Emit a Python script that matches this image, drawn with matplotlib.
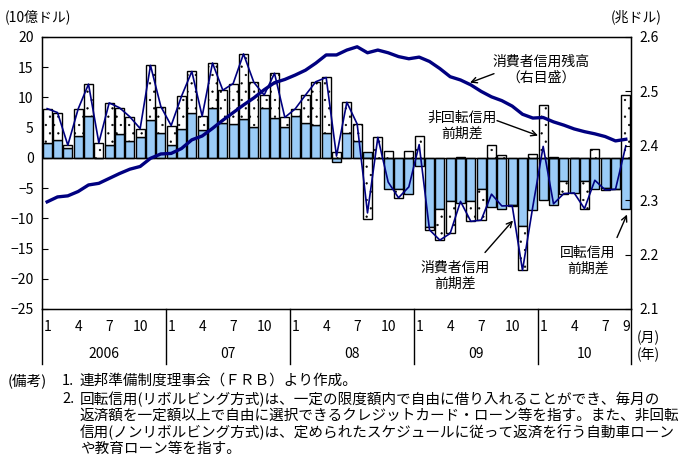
import numpy as np
import matplotlib
matplotlib.use("Agg")
import matplotlib.pyplot as plt
from matplotlib.transforms import blended_transform_factory

plt.rcParams['font.family'] = ['Noto Sans CJK JP', 'DejaVu Sans']
plt.rcParams['hatch.linewidth'] = 0.4
plt.rcParams['hatch.color'] = '#333333'

# ---- data (Jan 2006 - Sep 2010, monthly) ----
years = ['2006', '07', '08', '09', '10']
month_ticks = [['1', '4', '7', '10']] * 4 + [['1', '4', '7', '9']]
month_tick_idx = [[0, 3, 6, 9]] * 4 + [[0, 3, 6, 8]]

revolving = [2.4, 3.0, 1.6, 3.6, 7.0, 0.0, 2.1, 3.9, 2.75, 3.5, 6.2, 4.2,
             2.1, 4.8, 7.4, 4.6, 8.3, 5.8, 5.6, 6.4, 5.1, 8.3, 6.6, 5.1,
             6.9, 5.8, 5.4, 4.2, -0.6, 4.2, 2.75, 1.0, 0.0, -5.1, -5.1, -5.9,
             -1.4, -11.4, -8.5, -7.1, -7.4, -7.1, -5.1, -8.1, -8.5, -7.8, -11.3, -8.7,
             -6.9, -7.8, -3.9, -5.8, -3.9, -5.2, -5.0, -5.1, -8.4]
nonrevolving = [5.75, 4.5, 0.5, 4.5, 5.2, 2.5, 7.0, 4.4, 4.05, 1.35, 9.1, 4.3,
                3.25, 5.4, 6.9, 2.3, 7.4, 5.4, 6.7, 10.8, 7.4, 2.1, 7.4, 1.6,
                1.2, 4.6, 7.2, 9.1, 0.9, 5.0, 2.85, -10.1, 3.4, 1.1, -1.5, 1.1,
                3.6, -0.5, -5.1, -5.4, 0.2, -3.4, -5.2, 2.1, 0.55, -0.1, -7.3, 0.66,
                8.8, 0.2, -2.0, 0.0, -4.5, 1.5, -0.3, -0.1, 10.4]
outstanding = [2.297, 2.306, 2.308, 2.316, 2.328, 2.331, 2.340, 2.349, 2.357, 2.362, 2.377, 2.385,
               2.386, 2.395, 2.411, 2.418, 2.432, 2.447, 2.461, 2.475, 2.488, 2.503, 2.516, 2.522,
               2.530, 2.539, 2.552, 2.567, 2.567, 2.576, 2.582, 2.571, 2.576, 2.571, 2.564, 2.560,
               2.563, 2.555, 2.542, 2.527, 2.521, 2.512, 2.500, 2.490, 2.483, 2.473, 2.458, 2.451,
               2.452, 2.444, 2.438, 2.431, 2.426, 2.422, 2.417, 2.409, 2.412]

rev = np.array(revolving)
nonrev = np.array(nonrevolving)
total = rev + nonrev
x = np.arange(len(rev))
nonrev_bottom = np.where(np.sign(rev) == np.sign(nonrev), rev, 0.0)

W, H = 683, 462
fig = plt.figure(figsize=(W / 100, H / 100), dpi=100)
L, R, T, B = 42, 631, 37, 309
ax = fig.add_axes([L / W, 1 - B / H, (R - L) / W, (B - T) / H])

navy = '#000080'
ax.bar(x, rev, width=0.85, color='#9ACBF7', edgecolor='black', linewidth=1.0, zorder=2)
ax.bar(x, nonrev, bottom=nonrev_bottom, width=0.85, color='white', edgecolor='black',
       linewidth=1.0, hatch='..', zorder=2)
ax.axhline(0, color='black', lw=1.0, zorder=2.5)
ax.plot(x, total, color=navy, lw=1.2, zorder=3)

ax.set_xlim(-0.5, len(rev) - 0.5)
ax.set_ylim(-25, 20)
ax.set_yticks(np.arange(-25, 21, 5))
ax.set_xticks([])
ax.tick_params(axis='y', direction='in', length=4, labelsize=10, pad=6)
for s in ax.spines.values():
    s.set_linewidth(1.0)

ax2 = ax.twinx()
ax2.plot(x, outstanding, color=navy, lw=2.4, zorder=4)
ax2.set_ylim(2.1, 2.6)
ax2.set_yticks(np.arange(2.1, 2.61, 0.1))
ax2.set_yticklabels([f'{v:.1f}' for v in np.arange(2.1, 2.61, 0.1)])
ax2.tick_params(axis='y', direction='in', length=4, labelsize=10, pad=6)
ax2.set_xlim(-0.5, len(rev) - 0.5)

# x labels
tr = blended_transform_factory(ax.transData, ax.transAxes)
ylab_m = (B - 327) / (B - T)
ylab_y = (B - 354) / (B - T)
ysep = -(364 - B) / (B - T)
for yi, yr in enumerate(years):
    for lab, mi in zip(month_ticks[yi], month_tick_idx[yi]):
        ax.text(yi * 12 + mi, ylab_m, lab, transform=tr, ha='center', va='center', fontsize=10)
    n = 12 if yi < 4 else 9
    ax.text(yi * 12 + (n - 1) / 2, ylab_y, yr, transform=tr, ha='center', va='center', fontsize=10)
seps = [-0.5, 11.5, 23.5, 35.5, 47.5, 56.5]
for sx in seps:
    ax.plot([sx, sx], [0, ysep], transform=tr, color='black', lw=1.0, clip_on=False)

fig.text(648 / W, 1 - 338 / H, '(月)', ha='center', va='center', fontsize=10)
fig.text(648 / W, 1 - 355 / H, '(年)', ha='center', va='center', fontsize=10)
fig.text(5 / W, 1 - 17 / H, '(10億ドル)', ha='left', va='center', fontsize=10)
fig.text(636 / W, 1 - 17 / H, '(兆ドル)', ha='center', va='center', fontsize=10)

# annotations
def px2d(px, py):
    return ((px - L) / ((R - L) / len(rev)) - 0.5, (158.3 - py) / 6.05)

arrow = dict(arrowstyle='->', color='black', lw=1.0, shrinkA=0, shrinkB=0, mutation_scale=10)
def note(text, cx, cy, tail, tip):
    tx, ty = px2d(cx, cy)
    ax.text(tx, ty, text, ha='center', va='center', fontsize=10, linespacing=1.15, zorder=6)
    ax.annotate('', xy=px2d(*tip), xytext=px2d(*tail), arrowprops=arrow, zorder=6)

note('消費者信用残高\n（右目盛）', 541, 70, (494, 74), (470, 83))
note('非回転信用\n前期差', 462, 126, (497, 121), (538, 136))
note('消費者信用\n前期差', 455, 276, (485, 253), (513, 221))
note('回転信用\n前期差', 588, 261, (617, 238), (627, 215))

# footnotes
fs = 10.5
fig.text(8 / W, 1 - 381 / H, '(備考)', ha='left', va='center', fontsize=fs)
fig.text(62 / W, 1 - 381 / H, '1.', ha='left', va='center', fontsize=fs)
fig.text(62 / W, 1 - 399 / H, '2.', ha='left', va='center', fontsize=fs)
fig.text(80 / W, 1 - 381 / H, '連邦準備制度理事会（ＦＲＢ）より作成。', ha='left', va='center', fontsize=fs)
lines = ['回転信用(リボルビング方式)は、一定の限度額内で自由に借り入れることができ、毎月の',
         '返済額を一定額以上で自由に選択できるクレジットカード・ローン等を指す。また、非回転',
         '信用(ノンリボルビング方式)は、定められたスケジュールに従って返済を行う自動車ローン',
         'や教育ローン等を指す。']
for i, ln in enumerate(lines):
    fig.text(80 / W, 1 - (399 + i * 16.7) / H, ln, ha='left', va='center', fontsize=fs)

fig.savefig('out.png', dpi=100)
